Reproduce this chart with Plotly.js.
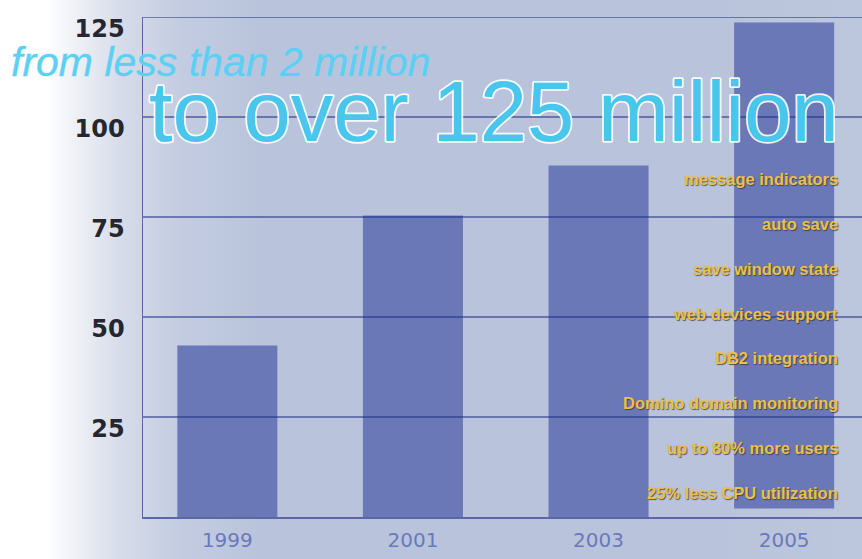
<!DOCTYPE html>
<html>
<head>
<meta charset="utf-8">
<script src="https://cdn.plot.ly/plotly-3.0.1.min.js"></script>
<style>
  html, body { margin: 0; padding: 0; width: 862px; height: 559px; overflow: hidden; }
  body {
    background: linear-gradient(to right, #ffffff 0px, #ffffff 45px, #d7dcea 120px, #c3cce1 180px, #b9c4dc 260px, #b9c4dc 700px, #bcc6dc 862px);
  }
  #chart { width: 862px; height: 559px; }
  #chart g.annotation[data-index="1"] text {
    paint-order: stroke fill;
    stroke: rgba(255,255,255,0.9);
    stroke-width: 3.5px;
    stroke-linejoin: round;
  }
  #chart g.annotation[data-index="0"] text {
    paint-order: stroke fill;
    stroke: rgba(120,220,250,0.5);
    stroke-width: 1px;
  }
</style>
</head>
<body>
<div id="chart"></div>
<script>
// ---- data ----
const years = ['1999', '2001', '2003', '2005'];
const barTops = [42.9, 75.4, 87.9, 123.6];
const barBases = [0, 0, 0, 2.1];
const yTicks = [25, 50, 75, 100, 125];
const headline1 = 'from less than 2 million';
const headline2 = 'to over 125 million';
const features = [
  'message indicators',
  'auto save',
  'save window state',
  'web devices support',
  'DB2 integration',
  'Domino domain monitoring',
  'up to 80% more users',
  '25% less CPU utilization'
];

// ---- chart ----
const barLengths = barTops.map((t, i) => t - barBases[i]);

const trace = {
  type: 'bar',
  x: [0, 1, 2, 3],
  y: barLengths,
  base: barBases,
  width: 0.539,
  marker: { color: '#6a78b8', line: { width: 0 } },
  hoverinfo: 'skip'
};

const gridShapes = yTicks.map(v => ({
  type: 'line', xref: 'paper', yref: 'y', x0: 0, x1: 1, y0: v, y1: v,
  line: { color: 'rgba(30,45,130,0.7)', width: 1.3 },
  layer: 'above'
}));

const featTop = 84.4, featStep = 11.19;
const featureAnns = features.map((f, i) => ({
  text: f, xref: 'paper', yref: 'y', x: 0.969, y: featTop - i * featStep,
  xanchor: 'right', yanchor: 'middle', showarrow: false,
  font: { family: 'Liberation Sans, Arial, sans-serif', size: 16.5, weight: 'bold', color: '#e9c14c',
          shadow: '1px 1px 1px rgba(60,50,40,0.75)' }
}));

const headAnns = [
  {
    text: headline1, xref: 'paper', yref: 'paper', x: -0.186, y: 0.91,
    xanchor: 'left', yanchor: 'middle', showarrow: false,
    font: { family: 'Liberation Sans, Arial, sans-serif', size: 41, style: 'italic', color: '#5ccff2' }
  },
  {
    text: headline2, xref: 'paper', yref: 'paper', x: 0.006, y: 0.81,
    xanchor: 'left', yanchor: 'middle', showarrow: false,
    font: { family: 'Liberation Sans, Arial, sans-serif', size: 85, color: '#48c6ec' }
  }
];

const layout = {
  width: 862, height: 559,
  margin: { l: 143, r: 0, t: 17, b: 41.5, pad: 0 },
  paper_bgcolor: 'rgba(0,0,0,0)',
  plot_bgcolor: 'rgba(0,0,0,0)',
  showlegend: false,
  xaxis: {
    range: [-0.4545, 3.4195],
    tickvals: [0, 1, 2, 3],
    ticktext: years,
    showgrid: false, zeroline: false,
    showline: true, linecolor: '#5a68a8', linewidth: 1.5,
    ticks: '', ticklabelstandoff: 4,
    tickfont: { family: 'DejaVu Sans, sans-serif', size: 20, color: '#6b78bb' },
    fixedrange: true
  },
  yaxis: {
    range: [0, 125],
    tickvals: yTicks,
    showgrid: false, zeroline: false,
    showline: true, linecolor: '#5a68a8', linewidth: 1.5,
    ticks: '', ticklabelstandoff: 12, ticklabelshift: 12,
    tickfont: { family: 'DejaVu Sans, sans-serif', size: 24, weight: 'bold', color: '#26262e' },
    fixedrange: true
  },
  shapes: gridShapes,
  annotations: headAnns.concat(featureAnns)
};

Plotly.newPlot('chart', [trace], layout, { displayModeBar: false, staticPlot: true });
</script>
</body>
</html>
